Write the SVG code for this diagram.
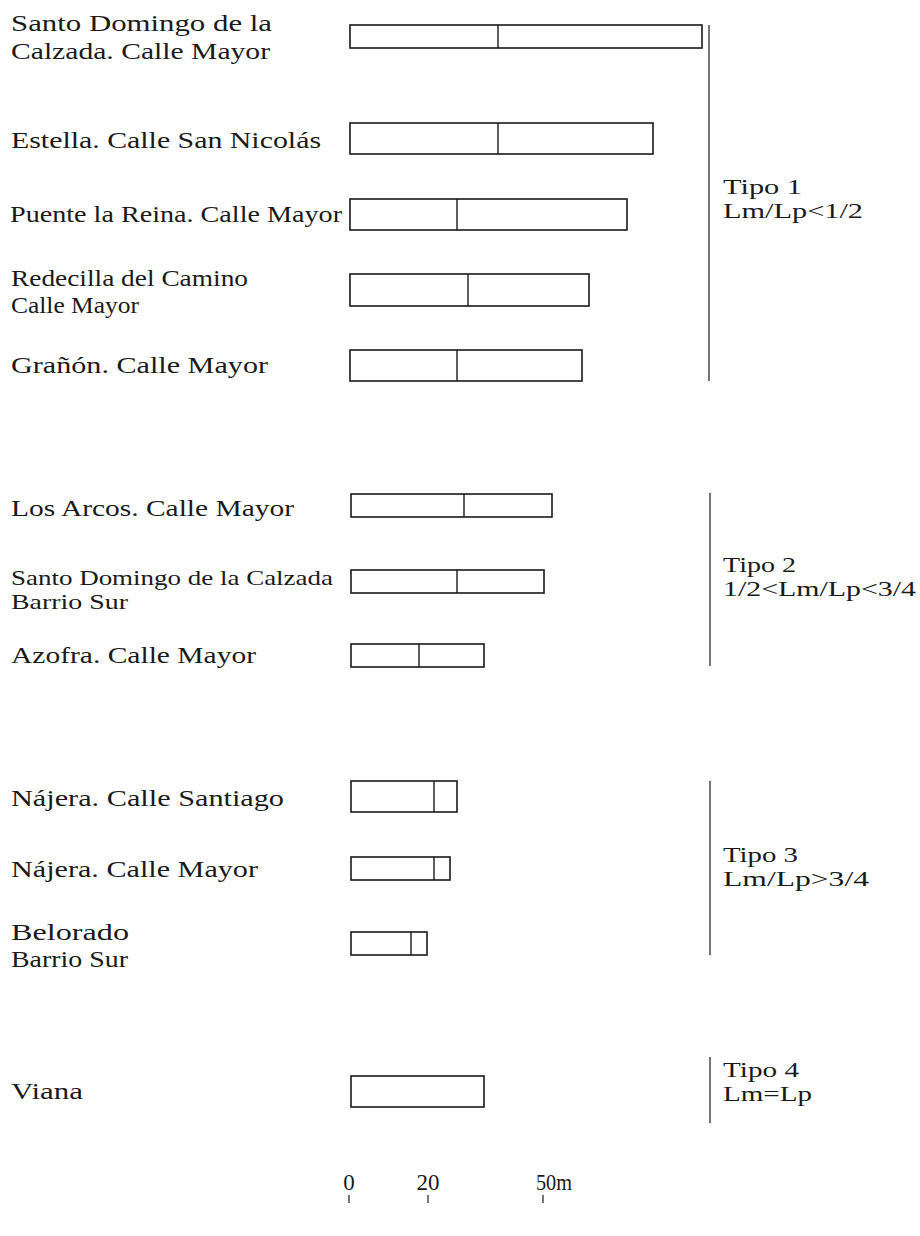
<svg xmlns="http://www.w3.org/2000/svg" width="920" height="1236" viewBox="0 0 920 1236">
<style>
text{font-family:"Liberation Serif","Times New Roman",serif;font-size:23px;fill:#1a1a1a}
text.s{font-size:21px}
.bar{fill:none;stroke:#1a1a1a;stroke-width:1.6}
.div{stroke:#1a1a1a;stroke-width:1.4}
.br{stroke:#1a1a1a;stroke-width:1.2;fill:none}
</style>
<rect width="920" height="1236" fill="#fff"/>
<g id="connectors">
<line class="br" x1="709" y1="25" x2="709" y2="381"/>
<line class="br" x1="710" y1="493" x2="710" y2="666"/>
<line class="br" x1="710" y1="781" x2="710" y2="955"/>
<line class="br" x1="710" y1="1057" x2="710" y2="1123"/>
</g>
<g id="row-sd-mayor">
<text x="11" y="31" textLength="261" lengthAdjust="spacingAndGlyphs">Santo Domingo de la</text>
<text x="11" y="59" textLength="259" lengthAdjust="spacingAndGlyphs">Calzada. Calle Mayor</text>
<rect class="bar" x="350" y="25" width="352" height="23"/><line class="div" x1="498" y1="25" x2="498" y2="48"/>
</g>
<g id="row-estella">
<text x="11" y="148" textLength="310" lengthAdjust="spacingAndGlyphs">Estella. Calle San Nicolás</text>
<rect class="bar" x="350" y="123" width="303" height="31"/><line class="div" x1="498" y1="123" x2="498" y2="154"/>
</g>
<g id="row-puente">
<text x="10" y="222" textLength="332" lengthAdjust="spacingAndGlyphs">Puente la Reina. Calle Mayor</text>
<rect class="bar" x="350" y="199" width="277" height="31"/><line class="div" x1="457" y1="199" x2="457" y2="230"/>
</g>
<g id="row-redecilla">
<text x="11" y="286" textLength="237" lengthAdjust="spacingAndGlyphs">Redecilla del Camino</text>
<text x="11" y="313" textLength="128" lengthAdjust="spacingAndGlyphs">Calle Mayor</text>
<rect class="bar" x="350" y="274" width="239" height="32"/><line class="div" x1="468" y1="274" x2="468" y2="306"/>
</g>
<g id="row-granon">
<text x="11" y="373" textLength="257" lengthAdjust="spacingAndGlyphs">Grañón. Calle Mayor</text>
<rect class="bar" x="350" y="350" width="232" height="31"/><line class="div" x1="457" y1="350" x2="457" y2="381"/>
</g>
<g id="tipo1">
<text class="s" x="723" y="194" textLength="79" lengthAdjust="spacingAndGlyphs">Tipo 1</text>
<text class="s" x="723" y="218" textLength="140" lengthAdjust="spacingAndGlyphs">Lm/Lp&lt;1/2</text>
</g>
<g id="row-arcos">
<text x="11" y="516" textLength="283" lengthAdjust="spacingAndGlyphs">Los Arcos. Calle Mayor</text>
<rect class="bar" x="351" y="494" width="201" height="23"/><line class="div" x1="464" y1="494" x2="464" y2="517"/>
</g>
<g id="row-sd-sur">
<text class="s" x="11" y="585" textLength="322" lengthAdjust="spacingAndGlyphs">Santo Domingo de la Calzada</text>
<text class="s" x="11" y="609" textLength="117" lengthAdjust="spacingAndGlyphs">Barrio Sur</text>
<rect class="bar" x="351" y="570" width="193" height="23"/><line class="div" x1="457" y1="570" x2="457" y2="593"/>
</g>
<g id="row-azofra">
<text x="11" y="663" textLength="245" lengthAdjust="spacingAndGlyphs">Azofra. Calle Mayor</text>
<rect class="bar" x="351" y="644" width="133" height="23"/><line class="div" x1="419" y1="644" x2="419" y2="667"/>
</g>
<g id="tipo2">
<text class="s" x="723" y="572" textLength="73" lengthAdjust="spacingAndGlyphs">Tipo 2</text>
<text class="s" x="723" y="596" textLength="193" lengthAdjust="spacingAndGlyphs">1/2&lt;Lm/Lp&lt;3/4</text>
</g>
<g id="row-najera-santiago">
<text x="11" y="806" textLength="273" lengthAdjust="spacingAndGlyphs">Nájera. Calle Santiago</text>
<rect class="bar" x="351" y="781" width="106" height="31"/><line class="div" x1="434" y1="781" x2="434" y2="812"/>
</g>
<g id="row-najera-mayor">
<text x="11" y="877" textLength="247" lengthAdjust="spacingAndGlyphs">Nájera. Calle Mayor</text>
<rect class="bar" x="351" y="857" width="99" height="23"/><line class="div" x1="434" y1="857" x2="434" y2="880"/>
</g>
<g id="row-belorado">
<text x="11" y="940" textLength="118" lengthAdjust="spacingAndGlyphs">Belorado</text>
<text x="11" y="967" textLength="117" lengthAdjust="spacingAndGlyphs">Barrio Sur</text>
<rect class="bar" x="351" y="932" width="76" height="23"/><line class="div" x1="411" y1="932" x2="411" y2="955"/>
</g>
<g id="tipo3">
<text class="s" x="723" y="862" textLength="75" lengthAdjust="spacingAndGlyphs">Tipo 3</text>
<text class="s" x="723" y="886" textLength="146" lengthAdjust="spacingAndGlyphs">Lm/Lp&gt;3/4</text>
</g>
<g id="row-viana">
<text x="11" y="1099" textLength="72" lengthAdjust="spacingAndGlyphs">Viana</text>
<rect class="bar" x="351" y="1076" width="133" height="31"/>
</g>
<g id="tipo4">
<text class="s" x="723" y="1077" textLength="76" lengthAdjust="spacingAndGlyphs">Tipo 4</text>
<text class="s" x="723" y="1101" textLength="89" lengthAdjust="spacingAndGlyphs">Lm=Lp</text>
</g>
<g id="scale">
<text x="349" y="1190" text-anchor="middle">0</text>
<text x="428" y="1190" text-anchor="middle">20</text>
<text x="536" y="1190" textLength="36" lengthAdjust="spacingAndGlyphs">50m</text>
<line class="br" x1="349" y1="1195" x2="349" y2="1203"/>
<line class="br" x1="428" y1="1195" x2="428" y2="1203"/>
<line class="br" x1="543" y1="1195" x2="543" y2="1203"/>
</g>
</svg>
